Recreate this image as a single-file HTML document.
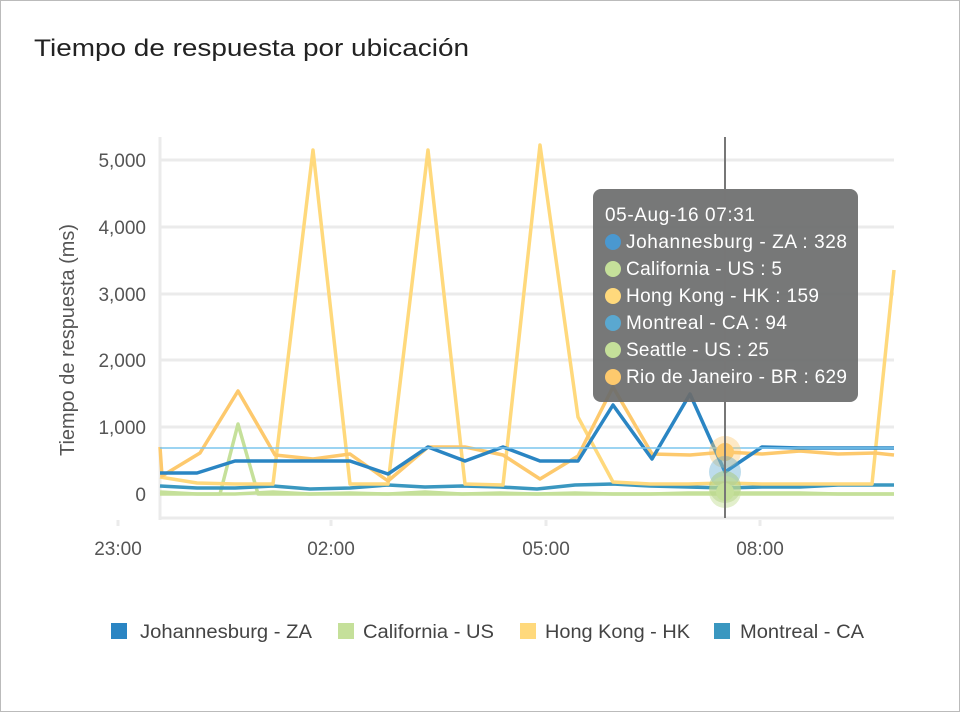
<!DOCTYPE html>
<html><head><meta charset="utf-8"><style>
body{margin:0;background:#fff;}
#c{position:relative;width:958px;height:710px;border:1px solid #bbb;font-family:"Liberation Sans",sans-serif;overflow:hidden;}
</style></head><body><div id="c">
<svg width="958" height="710" style="position:absolute;left:-1px;top:-1px">
<text x="34" y="56" font-size="24" fill="#222" textLength="435" lengthAdjust="spacingAndGlyphs">Tiempo de respuesta por ubicación</text>
<g stroke="#ebebeb" stroke-width="3">
<line x1="160" y1="160" x2="894" y2="160"/><line x1="160" y1="227" x2="894" y2="227"/>
<line x1="160" y1="294" x2="894" y2="294"/><line x1="160" y1="360" x2="894" y2="360"/>
<line x1="160" y1="427" x2="894" y2="427"/><line x1="160" y1="494" x2="894" y2="494"/>
<line x1="160" y1="518" x2="894" y2="518"/><line x1="160" y1="137" x2="160" y2="520"/>
<line x1="118" y1="520" x2="118" y2="526"/><line x1="331" y1="520" x2="331" y2="526"/>
<line x1="546" y1="520" x2="546" y2="526"/><line x1="760" y1="520" x2="760" y2="526"/>
</g>
<g font-size="19" fill="#555" text-anchor="end">
<text x="146" y="167">5,000</text><text x="146" y="234">4,000</text><text x="146" y="301">3,000</text>
<text x="146" y="367">2,000</text><text x="146" y="434">1,000</text><text x="146" y="501">0</text>
</g>
<g font-size="19" fill="#555" text-anchor="middle">
<text x="118" y="555">23:00</text><text x="331" y="555">02:00</text><text x="546" y="555">05:00</text><text x="760" y="555">08:00</text>
</g>
<text transform="translate(74,340) rotate(-90)" font-size="20" fill="#555" text-anchor="middle" textLength="232" lengthAdjust="spacingAndGlyphs">Tiempo de respuesta (ms)</text>
<g fill="none" stroke-width="3.5" stroke-linejoin="round">
<polyline stroke="#c5e09a" points="160,492 197,494 235,494 273,492 310,494 350,493 388,494 425,492 462,494 500,493 537,494 575,493 613,494 650,494 688,493 725,493 762,493 800,493 838,494 875,494 894,494"/>
<polyline stroke="#c5e09a" points="160,494 197,494 220,494 238,424 258,494 273,494 310,494 350,494 388,494 425,494 462,494 500,494 537,494 575,494 613,494 650,494 688,494 725,494 762,494 800,494 838,494 894,494"/>
<polyline stroke="#3a97c0" points="160,486 197,488 235,488 273,486 310,489 350,488 388,485 425,487 462,486 500,487 537,489 575,485 613,484 650,486 688,487 725,488 762,487 800,487 838,485 875,485 894,485"/>
<polyline stroke="#ffd97c" points="160,477 197,483 235,484 273,484 313,150 350,484 388,484 428,150 465,484 503,485 540,145 578,417 613,482 650,484 688,484 725,483 762,484 800,484 838,484 872,484 894,270"/>
<polyline stroke="#fdc96d" points="160,447 162,476 200,453 238,391 275,455 313,459 350,454 388,481 428,447 465,447 503,455 540,479 578,456 613,387 652,454 690,455 725,452 762,454 800,451 838,454 875,453 894,455"/>
<polyline stroke="#2a85c3" points="160,473 197,473 235,461 273,461 310,461 350,461 388,474 428,447 465,461 503,447 540,461 578,461 613,405 652,459 690,394 725,472 762,447 800,448 838,448 894,448"/>
</g>
<line x1="160" y1="448" x2="894" y2="448" stroke="#7cc6ee" stroke-width="1.5"/>
<g>
<circle cx="725" cy="452" r="16" fill="#fdc96d" opacity="0.4"/><circle cx="725" cy="452" r="9" fill="#fdc96d"/>
<circle cx="725" cy="472" r="16" fill="#5aa8d0" opacity="0.4"/>
<circle cx="725" cy="487" r="16" fill="#a7c77a" opacity="0.5"/>
<circle cx="725" cy="492" r="16" fill="#c5e09a" opacity="0.5"/><circle cx="725" cy="492" r="9" fill="#c5e09a"/>
</g>
<rect x="593" y="189" width="265" height="213" rx="8" fill="#6b6d6c" opacity="0.92"/>
<line x1="725" y1="137" x2="725" y2="518" stroke="#777" stroke-width="2"/>
<g font-size="19" fill="#fff" lengthAdjust="spacingAndGlyphs">
<text x="605" y="221" textLength="150">05-Aug-16 07:31</text>
<circle cx="613" cy="242" r="8" fill="#4a98d0"/><text x="626" y="248" textLength="221">Johannesburg - ZA : 328</text>
<circle cx="613" cy="269" r="8" fill="#c5e09a"/><text x="626" y="275" textLength="156">California - US : 5</text>
<circle cx="613" cy="296" r="8" fill="#ffd97c"/><text x="626" y="302" textLength="193">Hong Kong - HK : 159</text>
<circle cx="613" cy="323" r="8" fill="#5aa8d0"/><text x="626" y="329" textLength="161">Montreal - CA : 94</text>
<circle cx="613" cy="350" r="8" fill="#c5e09a"/><text x="626" y="356" textLength="143">Seattle - US : 25</text>
<circle cx="613" cy="377" r="8" fill="#fdc96d"/><text x="626" y="383" textLength="221">Rio de Janeiro - BR : 629</text>
</g>
<g font-size="19" fill="#444">
<rect x="111" y="623" width="16" height="16" fill="#2a85c3"/><text x="140" y="638" textLength="172" lengthAdjust="spacingAndGlyphs">Johannesburg - ZA</text>
<rect x="338" y="623" width="16" height="16" fill="#c5e09a"/><text x="363" y="638" textLength="131" lengthAdjust="spacingAndGlyphs">California - US</text>
<rect x="520" y="623" width="16" height="16" fill="#ffd97c"/><text x="545" y="638" textLength="145" lengthAdjust="spacingAndGlyphs">Hong Kong - HK</text>
<rect x="714" y="623" width="16" height="16" fill="#3a97c0"/><text x="740" y="638" textLength="124" lengthAdjust="spacingAndGlyphs">Montreal - CA</text>
</g>
</svg></div></body></html>
